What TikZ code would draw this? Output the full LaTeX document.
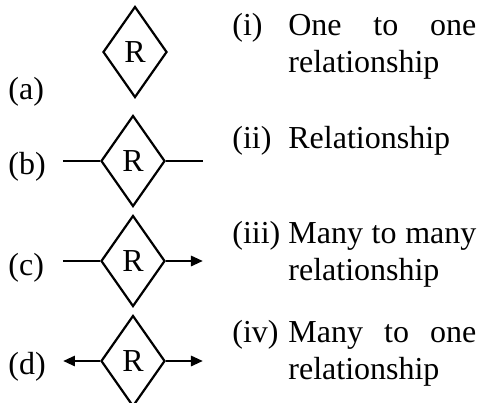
\documentclass[tikz,border=0pt]{standalone}
\usepackage{fontspec}
\setmainfont{Liberation Serif}
\usetikzlibrary{shapes.geometric,arrows.meta,positioning}
\newcommand{\itemtext}[2]{\makebox[28pt][l]{#1}\parbox[t]{94pt}{\hyphenpenalty=10000\tolerance=10000 #2}}

\begin{document}
\begin{tikzpicture}[x=0.5pt,y=-0.5pt,
  font=\fontsize{16}{18.5}\selectfont,
  rel/.style={diamond,draw,line width=1.1pt,minimum width=32pt,minimum height=45.5pt,inner sep=0pt},
  link/.style={line width=1.4pt},
  tip/.style={-{Triangle[length=6pt,width=5pt]}},
  tag/.style={anchor=base west,inner sep=0pt},
  desc/.style={anchor=base west,inner sep=0pt}]
  \useasboundingbox (0,0) rectangle (479,403);

  \node[rel] (ra) at (135,52) {R};
  \node[rel] (rb) at (133,161) {R};
  \node[rel] (rc) at (133,261) {R};
  \node[rel] (rd) at (133,361) {R};

  \coordinate (bl) at (63,161);
  \coordinate (br) at (203,161);
  \coordinate (cl) at (63,261);
  \coordinate (cr) at (203,261);
  \coordinate (dl) at (63,361);
  \coordinate (dr) at (203,361);

  \draw[link] (bl) -- (rb.west);
  \draw[link] (rb.east) -- (br);
  \draw[link] (cl) -- (rc.west);
  \draw[link,tip] (rc.east) -- (cr);
  \draw[link,tip] (rd.west) -- (dl);
  \draw[link,tip] (rd.east) -- (dr);

  \node[tag] (la) at (8,99) {(a)};
  \node[tag] (lb) at (8,174) {(b)};
  \node[tag] (lc) at (8,275) {(c)};
  \node[tag] (ld) at (8,374) {(d)};

  \node[desc] (di) at (232,35) {\itemtext{(i)}{One to one relationship}};
  \node[desc] (dii) at (232,148) {\itemtext{(ii)}{Relationship}};
  \node[desc] (diii) at (232,243) {\itemtext{(iii)}{Many to many relationship}};
  \node[desc] (div) at (232,342) {\itemtext{(iv)}{Many to one relationship}};
\end{tikzpicture}
\end{document}
